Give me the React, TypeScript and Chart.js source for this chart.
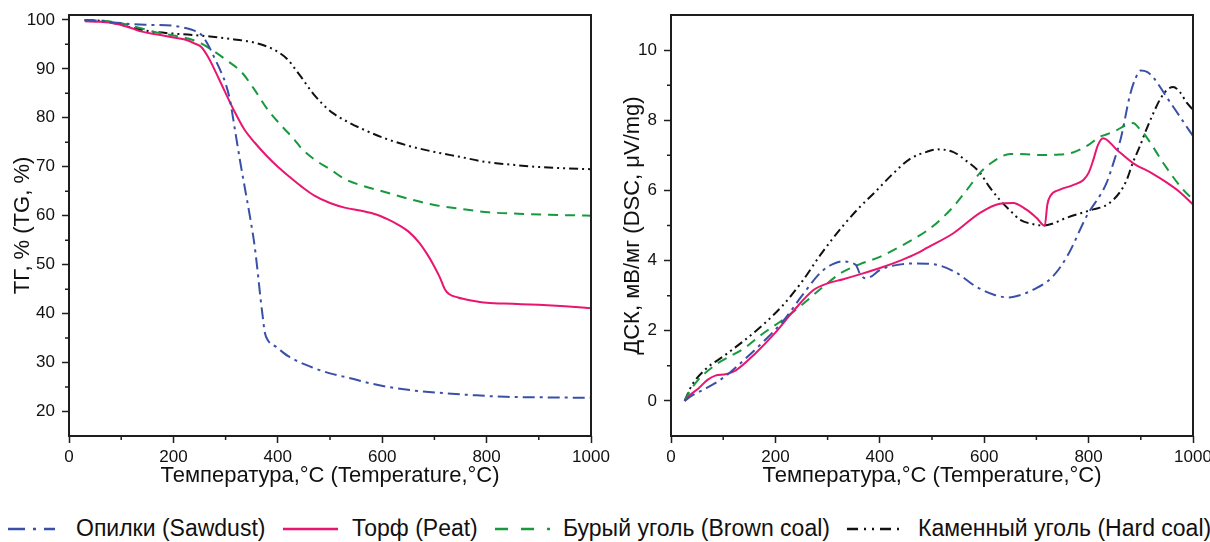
import React, { useEffect, useRef } from 'react';
import { Chart, registerables } from 'chart.js';

Chart.register(...registerables);

type Pt = [number, number];

// ---------- data ----------
const TEMP_TICKS = [0, 200, 400, 600, 800, 1000];
const TEMP_MINOR = [100, 300, 500, 700, 900];
const TG_TICKS = [20, 30, 40, 50, 60, 70, 80, 90, 100];
const TG_MINOR = [25, 35, 45, 55, 65, 75, 85, 95];
const DSC_TICKS = [0, 2, 4, 6, 8, 10];
const DSC_MINOR = [1, 3, 5, 7, 9];

const SERIES_NAMES = [
  'Опилки (Sawdust)',
  'Торф (Peat)',
  'Бурый уголь (Brown coal)',
  'Каменный уголь (Hard coal)',
];

const X_TITLE = 'Температура,°C (Temperature,°C)';
const TG_TITLE = 'ТГ, % (TG, %)';
const DSC_TITLE = 'ДСК, мВ/мг (DSC, μV/mg)';

const tgSawdust: Pt[] = [
  [30, 100], [60, 99.8], [100, 99.3], [150, 99.0], [200, 98.8], [225, 98.3], [240, 97.8],
  [253, 97.0], [265, 95.2], [278, 92.4], [292, 89.2], [300, 87.0], [308, 83.8], [318, 77.5],
  [328, 71.0], [338, 65.0], [348, 59.0], [356, 53.5], [362, 48.0], [367, 43.0], [371, 39.5],
  [375, 36.2], [382, 34.4], [397, 33.2], [420, 31.3], [464, 29.1], [500, 27.8], [539, 26.8],
  [575, 25.8], [613, 25.0], [660, 24.3], [725, 23.7], [780, 23.3], [837, 23.0], [900, 22.9],
  [1000, 22.8],
];

const tgPeat: Pt[] = [
  [30, 99.7], [60, 99.6], [90, 99.2], [120, 98.3], [140, 97.6], [170, 97.0], [200, 96.4],
  [228, 95.8], [240, 95.2], [253, 94.5], [266, 92.5], [279, 89.8], [298, 85.5], [317, 81.3],
  [336, 77.6], [356, 74.9], [378, 72.3], [401, 69.9], [423, 67.9], [445, 66.0], [470, 64.1],
  [500, 62.6], [530, 61.6], [560, 61.0], [590, 60.2], [610, 59.3], [630, 58.2], [650, 56.8],
  [670, 54.6], [687, 52.0], [698, 50.0], [710, 47.5], [720, 45.0], [728, 44.0], [745, 43.3],
  [770, 42.7], [800, 42.2], [850, 42.0], [900, 41.8], [950, 41.5], [1000, 41.1],
];

const tgBrown: Pt[] = [
  [30, 100], [70, 99.8], [100, 99.3], [130, 98.5], [170, 97.4], [200, 96.8], [228, 96.2],
  [253, 95.2], [279, 93.5], [305, 91.5], [330, 89.4], [355, 85.8], [381, 81.6], [406, 78.5],
  [432, 75.5], [445, 73.8], [470, 71.5], [500, 69.5], [528, 67.5], [560, 66.2], [600, 65.0],
  [656, 63.3], [700, 62.2], [750, 61.4], [804, 60.7], [860, 60.4], [920, 60.2], [1000, 60.0],
];

const tgHard: Pt[] = [
  [30, 100], [62, 99.8], [100, 99.0], [125, 98.3], [160, 97.6], [200, 97.2], [228, 97.0],
  [270, 96.6], [317, 96.0], [350, 95.5], [381, 94.5], [400, 93.5], [420, 91.8], [433, 90.0],
  [445, 88.3], [465, 85.3], [484, 83.0], [505, 81.0], [528, 79.5], [560, 77.8], [605, 75.8],
  [650, 74.3], [701, 73.0], [750, 72.0], [797, 71.0], [850, 70.4], [893, 70.0], [950, 69.7],
  [1000, 69.5],
];

const dscSawdust: Pt[] = [
  [26, 0], [40, 0.15], [66, 0.35], [103, 0.69], [140, 1.17], [177, 1.69], [214, 2.26],
  [251, 3.0], [288, 3.68], [310, 3.9], [330, 3.98], [347, 3.93], [355, 3.86], [362, 3.62],
  [372, 3.5], [385, 3.56], [399, 3.72], [435, 3.88], [472, 3.92], [509, 3.88], [546, 3.66],
  [583, 3.27], [620, 3.02], [646, 2.95], [670, 3.02], [694, 3.17], [731, 3.54], [760, 4.15],
  [796, 5.26], [834, 6.2], [850, 6.9], [862, 7.5], [879, 8.7], [890, 9.2], [900, 9.42],
  [912, 9.38], [924, 9.22], [950, 8.65], [975, 8.1], [1000, 7.55],
];

const dscPeat: Pt[] = [
  [26, 0], [35, 0.15], [52, 0.35], [70, 0.6], [85, 0.72], [105, 0.76], [125, 0.88],
  [162, 1.36], [199, 1.93], [236, 2.59], [273, 3.16], [300, 3.35], [330, 3.47], [360, 3.6],
  [399, 3.78], [443, 4.02], [472, 4.21], [490, 4.36], [541, 4.78], [592, 5.36], [630, 5.62],
  [655, 5.64], [681, 5.45], [700, 5.22], [716, 4.99], [721, 5.6], [727, 5.85], [745, 6.02],
  [770, 6.15], [790, 6.3], [800, 6.5], [809, 6.87], [818, 7.3], [828, 7.49], [854, 7.16],
  [885, 6.78], [920, 6.5], [950, 6.22], [975, 5.95], [1000, 5.6],
];

const dscBrown: Pt[] = [
  [26, 0], [35, 0.25], [52, 0.6], [70, 0.85], [89, 1.07], [140, 1.5], [177, 1.93],
  [214, 2.31], [251, 2.74], [288, 3.21], [325, 3.64], [362, 3.9], [399, 4.1], [439, 4.4],
  [490, 4.85], [515, 5.15], [541, 5.54], [566, 6.0], [592, 6.5], [620, 6.85], [650, 7.04],
  [680, 7.03], [707, 7.01], [740, 7.02], [770, 7.08], [800, 7.3], [822, 7.53], [835, 7.6],
  [854, 7.72], [870, 7.85], [885, 7.92], [898, 7.75], [912, 7.5], [943, 6.78], [981, 6.02],
  [1000, 5.75],
];

const dscHard: Pt[] = [
  [26, 0], [32, 0.2], [40, 0.45], [66, 0.9], [103, 1.3], [140, 1.72], [177, 2.18],
  [214, 2.72], [251, 3.4], [288, 4.2], [330, 5.0], [360, 5.5], [394, 6.0], [420, 6.4],
  [458, 6.9], [490, 7.1], [509, 7.17], [540, 7.1], [565, 6.85], [592, 6.5], [610, 6.1],
  [630, 5.73], [650, 5.42], [669, 5.16], [690, 5.05], [713, 5.0], [730, 5.05], [758, 5.22],
  [785, 5.35], [809, 5.46], [830, 5.55], [847, 5.73], [860, 5.95], [873, 6.3], [885, 6.8],
  [898, 7.25], [911, 7.75], [924, 8.2], [937, 8.6], [950, 8.86], [962, 8.95], [975, 8.8],
  [988, 8.5], [1000, 8.3],
];

const TG_SERIES = [tgSawdust, tgPeat, tgBrown, tgHard];
const DSC_SERIES = [dscSawdust, dscPeat, dscBrown, dscHard];

// ---------- styles ----------
const FONT = '"Liberation Sans", Arial, sans-serif';
const AXIS_COLOR = '#1e1e1e';
const TEXT_COLOR = '#111111';
const SERIES_STYLE = [
  { color: '#3a50a8', dash: [12, 5, 3, 5], legendDash: '17 8 3 8' },
  { color: '#e8166f', dash: [] as number[], legendDash: '' },
  { color: '#17993e', dash: [10, 7], legendDash: '13 13' },
  { color: '#111111', dash: [9, 4, 2, 4, 2, 4], legendDash: '11 6 2 6 2 6' },
];

interface PanelProps {
  series: Pt[][];
  yMin: number;
  yMax: number;
  yTicks: number[];
  yMinor: number[];
  yTitle: string;
  left: number;
  width: number;
  height: number;
  yWidth: number;
  padRight: number;
  yTitlePad: number;
}

function Panel(p: PanelProps) {
  const ref = useRef<HTMLCanvasElement | null>(null);
  useEffect(() => {
    const canvas = ref.current;
    if (!canvas) return;
    const frame = {
      id: 'frameMinor',
      afterDraw(chart: any) {
        const { ctx, chartArea: a, scales } = chart;
        ctx.save();
        ctx.strokeStyle = AXIS_COLOR;
        ctx.lineWidth = 1.5;
        ctx.beginPath();
        for (const v of TEMP_MINOR) {
          const x = scales.x.getPixelForValue(v);
          ctx.moveTo(x, a.bottom);
          ctx.lineTo(x, a.bottom + 4);
        }
        for (const v of p.yMinor) {
          const y = scales.y.getPixelForValue(v);
          ctx.moveTo(a.left, y);
          ctx.lineTo(a.left - 4, y);
        }
        ctx.stroke();
        ctx.lineWidth = 2;
        ctx.strokeRect(a.left, a.top, a.right - a.left, a.bottom - a.top);
        ctx.restore();
      },
    };
    const chart = new Chart(canvas, {
      type: 'line',
      data: {
        datasets: p.series.map((s, i) => ({
          label: SERIES_NAMES[i],
          data: s.map(([x, y]) => ({ x, y })),
          borderColor: SERIES_STYLE[i].color,
          backgroundColor: SERIES_STYLE[i].color,
          borderDash: SERIES_STYLE[i].dash,
          borderWidth: 2,
          pointRadius: 0,
          fill: false,
          cubicInterpolationMode: 'monotone' as const,
        })),
      },
      options: {
        responsive: false,
        animation: false,
        devicePixelRatio: 1,
        layout: { padding: { left: 0, top: 15, right: p.padRight, bottom: 0 } },
        plugins: { legend: { display: false }, tooltip: { enabled: false } },
        scales: {
          x: {
            type: 'linear',
            min: 0,
            max: 1000,
            afterBuildTicks: (s: any) => {
              s.ticks = TEMP_TICKS.map((v) => ({ value: v }));
            },
            afterFit: (s: any) => {
              s.height = p.height - 436;
              s.paddingLeft = 0;
              s.paddingRight = 0;
            },
            grid: {
              display: true,
              drawOnChartArea: false,
              drawTicks: true,
              tickLength: 7,
              tickColor: AXIS_COLOR,
              tickWidth: 1.5,
            },
            border: { display: false },
            ticks: {
              color: TEXT_COLOR,
              font: { family: FONT, size: 17 },
              padding: 4,
              maxRotation: 0,
              autoSkip: false,
              callback: (v: any) => String(v),
            },
            title: {
              display: true,
              text: X_TITLE,
              color: TEXT_COLOR,
              font: { family: FONT, size: 22, lineHeight: 1 },
              padding: { top: 0, bottom: 13 },
            },
          },
          y: {
            type: 'linear',
            min: p.yMin,
            max: p.yMax,
            afterBuildTicks: (s: any) => {
              s.ticks = p.yTicks.map((v) => ({ value: v }));
            },
            afterFit: (s: any) => {
              s.width = p.yWidth;
              s.paddingTop = 0;
              s.paddingBottom = 0;
            },
            grid: {
              display: true,
              drawOnChartArea: false,
              drawTicks: true,
              tickLength: 7,
              tickColor: AXIS_COLOR,
              tickWidth: 1.5,
            },
            border: { display: false },
            ticks: {
              color: TEXT_COLOR,
              font: { family: FONT, size: 17 },
              padding: 7,
              autoSkip: false,
              callback: (v: any) => String(v),
            },
            title: {
              display: true,
              text: p.yTitle,
              color: TEXT_COLOR,
              font: { family: FONT, size: 22, lineHeight: 1 },
              padding: { top: p.yTitlePad, bottom: 0 },
            },
          },
        },
      },
      plugins: [frame],
    } as any);
    return () => chart.destroy();
  }, []);
  return (
    <canvas
      ref={ref}
      width={p.width}
      height={p.height}
      style={{ position: 'absolute', left: p.left, top: 0, width: p.width, height: p.height }}
    />
  );
}

const LEGEND_LAYOUT = [
  { sx: 8, sw: 47, tx: 76 },
  { sx: 283, sw: 55, tx: 352 },
  { sx: 495, sw: 55, tx: 563 },
  { sx: 847, sw: 53, tx: 918 },
];

export default function App() {
  return (
    <div
      style={{
        position: 'absolute',
        left: 0,
        top: 0,
        width: 1210,
        height: 542,
        overflow: 'hidden',
        background: '#ffffff',
        fontFamily: FONT,
      }}
    >
      <Panel
        series={TG_SERIES}
        yMin={15}
        yMax={101}
        yTicks={TG_TICKS}
        yMinor={TG_MINOR}
        yTitle={TG_TITLE}
        left={0}
        width={620}
        height={500}
        yWidth={69}
        padRight={29}
        yTitlePad={12}
      />
      <Panel
        series={DSC_SERIES}
        yMin={-1}
        yMax={11}
        yTicks={DSC_TICKS}
        yMinor={DSC_MINOR}
        yTitle={DSC_TITLE}
        left={605}
        width={605}
        height={500}
        yWidth={66}
        padRight={17}
        yTitlePad={17}
      />
      {SERIES_NAMES.map((name, i) => {
        const l = LEGEND_LAYOUT[i];
        const st = SERIES_STYLE[i];
        return (
          <React.Fragment key={name}>
            <svg
              width={l.sw}
              height={18}
              style={{ position: 'absolute', left: l.sx, top: 520 }}
            >
              <line
                x1={0}
                y1={9}
                x2={l.sw}
                y2={9}
                stroke={st.color}
                strokeWidth={2.5}
                strokeDasharray={st.legendDash || undefined}
              />
            </svg>
            <span
              style={{
                position: 'absolute',
                left: l.tx,
                top: 517,
                fontSize: 23,
                lineHeight: '23px',
                color: TEXT_COLOR,
                whiteSpace: 'nowrap',
              }}
            >
              {name}
            </span>
          </React.Fragment>
        );
      })}
    </div>
  );
}
